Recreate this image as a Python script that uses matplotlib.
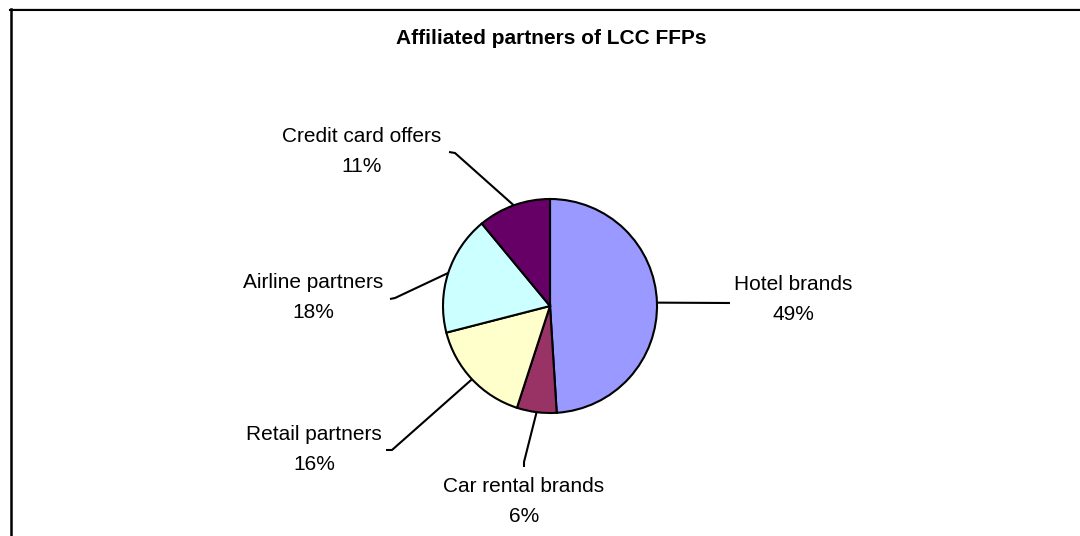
import numpy as np
import matplotlib
matplotlib.use("Agg")
import matplotlib.pyplot as plt

# ---- data ----
categories = ["Hotel brands", "Car rental brands", "Retail partners",
              "Airline partners", "Credit card offers"]
shares = [49, 6, 16, 18, 11]
colors = ["#9999FF", "#993366", "#FFFFCC", "#CCFFFF", "#660066"]
title = "Affiliated partners of LCC FFPs"

# ---- layout (pixel coordinates, y measured from top) ----
W, H = 1080, 536
cx, cy, R = 550, 306, 107
# label centre (x, y of first line) and leader end / elbow points
label_pos = [(793, 285), (524, 486), (314, 434), (313, 283), (362, 136)]
leader_mid = [(730, 303), (524, 462), (392, 450), (395, 298), (455, 153)]
leader_end = [(730, 303), (524, 467), (386, 450), (390, 299), (449, 152)]

plt.rcParams['font.family'] = ['Liberation Sans', 'DejaVu Sans']
fig = plt.figure(figsize=(W / 100, H / 100), dpi=100)
ax = fig.add_axes([0, 0, 1, 1])

wedges, _ = ax.pie(shares, colors=colors, startangle=90, counterclock=False,
                   center=(cx, H - cy), radius=R,
                   wedgeprops=dict(edgecolor="black", linewidth=1.5))
ax.set_xlim(0, W)
ax.set_ylim(0, H)
ax.set_aspect('equal')
ax.axis('off')

for w, name, pct, lp, lm, le in zip(wedges, categories, shares,
                                    label_pos, leader_mid, leader_end):
    ang = np.deg2rad((w.theta1 + w.theta2) / 2)
    sx = cx + R * np.cos(ang)
    sy = (H - cy) + R * np.sin(ang)
    ax.plot([sx, lm[0], le[0]], [sy, H - lm[1], H - le[1]],
            color="black", lw=1.5, solid_capstyle='butt', zorder=0)
    ax.text(lp[0], H - lp[1], name, ha="center", va="center", fontsize=15)
    ax.text(lp[0], H - lp[1] - 30, f"{pct}%", ha="center", va="center",
            fontsize=15)

ax.text(551, H - 39, title, ha="center", va="center", fontsize=15,
        fontweight="bold")

# frame (partially visible)
ax.plot([10, W], [H - 8.5, H - 8.5], color="#999999", lw=1.0)
ax.plot([10, W], [H - 9.5, H - 9.5], color="black", lw=1.5)
ax.plot([10.5, 10.5], [H - 8.5, 0], color="black", lw=1.8)

fig.savefig("out.png", dpi=100)
